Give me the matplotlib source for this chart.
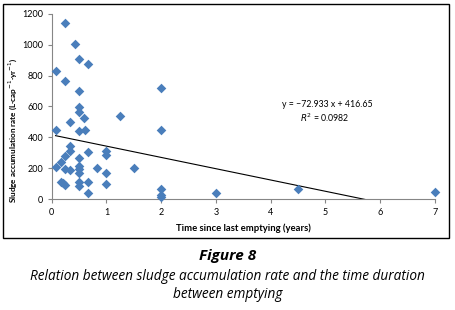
import matplotlib
matplotlib.use('Agg')
import matplotlib.pyplot as plt
from matplotlib.patches import Rectangle
import numpy as np

# years since last emptying / sludge accumulation rate (L/cap/yr)
years = [0.07, 0.07, 0.07, 0.25, 0.25, 0.42, 0.5, 0.66, 0.5, 0.5,
         0.5, 0.59, 0.33, 0.5, 0.6, 0.34, 0.34, 0.25, 0.17, 0.25,
         0.34, 0.5, 0.5, 0.5, 0.5, 0.66, 0.83, 0.17, 0.21, 0.25,
         0.5, 0.5, 0.66, 0.66, 1.0, 1.0, 1.0, 1.0, 1.24, 1.5,
         2.0, 2.0, 2.0, 2.0, 2.0, 3.0, 4.5, 7.0]
rate = [211, 448, 828, 1142, 767, 1004, 907, 877, 703, 595,
        567, 526, 498, 442, 448, 347, 312, 280, 239, 194,
        190, 265, 218, 194, 172, 306, 205, 114, 103, 93,
        114, 88, 114, 43, 312, 287, 168, 101, 539, 200,
        722, 450, 65, 28, 17, 43, 68, 47]

slope = -72.933
intercept = 416.65
r2 = 0.0982

xticks = [0, 1, 2, 3, 4, 5, 6, 7]
yticks = [0, 200, 400, 600, 800, 1000, 1200]

chart_font = 'Lato'
caption_font = 'Open Sans'
axis_grey = '#868686'
marker_blue = '#4a7ebb'

fig = plt.figure(figsize=(4.55, 3.10), dpi=100)
ax = fig.add_axes([0.1136, 0.357, 0.8424, 0.599])

ax.scatter(years, rate, marker='D', s=24, color=marker_blue, zorder=3, linewidths=0,
           clip_on=False)

# linear trendline over the data range
xs = np.array([min(years), max(years)])
ax.plot(xs, slope * xs + intercept, color='black', lw=0.8, zorder=2)

ax.set_xlim(0, 7)
ax.set_ylim(0, 1200)
ax.set_xticks(xticks)
ax.set_yticks(yticks)
for sp in ['top', 'right']:
    ax.spines[sp].set_visible(False)
for sp in ['left', 'bottom']:
    ax.spines[sp].set_color(axis_grey)
    ax.spines[sp].set_linewidth(0.8)
ax.tick_params(length=3, width=0.8, color=axis_grey, labelsize=6.5, pad=3)
for lab in ax.get_xticklabels() + ax.get_yticklabels():
    lab.set_fontfamily(chart_font)

ax.text(5.04, 610, 'y = \u221272.933 x + 416.65', fontsize=6.3, ha='center', va='center',
        family=chart_font)
ax.text(4.98, 524, '$R^2$ = 0.0982', fontsize=6.3, ha='center', va='center', family=chart_font)

fig.text(243 / 455, 1 - 228 / 310, 'Time since last emptying (years)', fontsize=6.8,
         fontweight='bold', family=chart_font, ha='center', va='center')
fig.text(13 / 455, 1 - 130 / 310, 'Sludge accumulation rate (L\u00b7cap$^{-1}$\u00b7yr$^{-1}$)',
         fontsize=5.9, fontweight='bold', family=chart_font, ha='center', va='center',
         rotation=90)

# outer chart border
fig.patches.append(Rectangle((3 / 455, 1 - 238 / 310), 446 / 455, 234 / 310,
                             transform=fig.transFigure, fill=False, ec='black', lw=1.0))

fig.text(0.5, 1 - 256 / 310, 'Figure 8', fontsize=11, fontweight='bold', style='italic',
         family=caption_font, ha='center', va='center')
fig.text(0.5, 1 - 276 / 310, 'Relation between sludge accumulation rate and the time duration',
         fontsize=9.8, style='italic', family=caption_font, ha='center', va='center')
fig.text(0.5, 1 - 295 / 310, 'between emptying',
         fontsize=9.8, style='italic', family=caption_font, ha='center', va='center')

fig.savefig('out.png', dpi=100)
